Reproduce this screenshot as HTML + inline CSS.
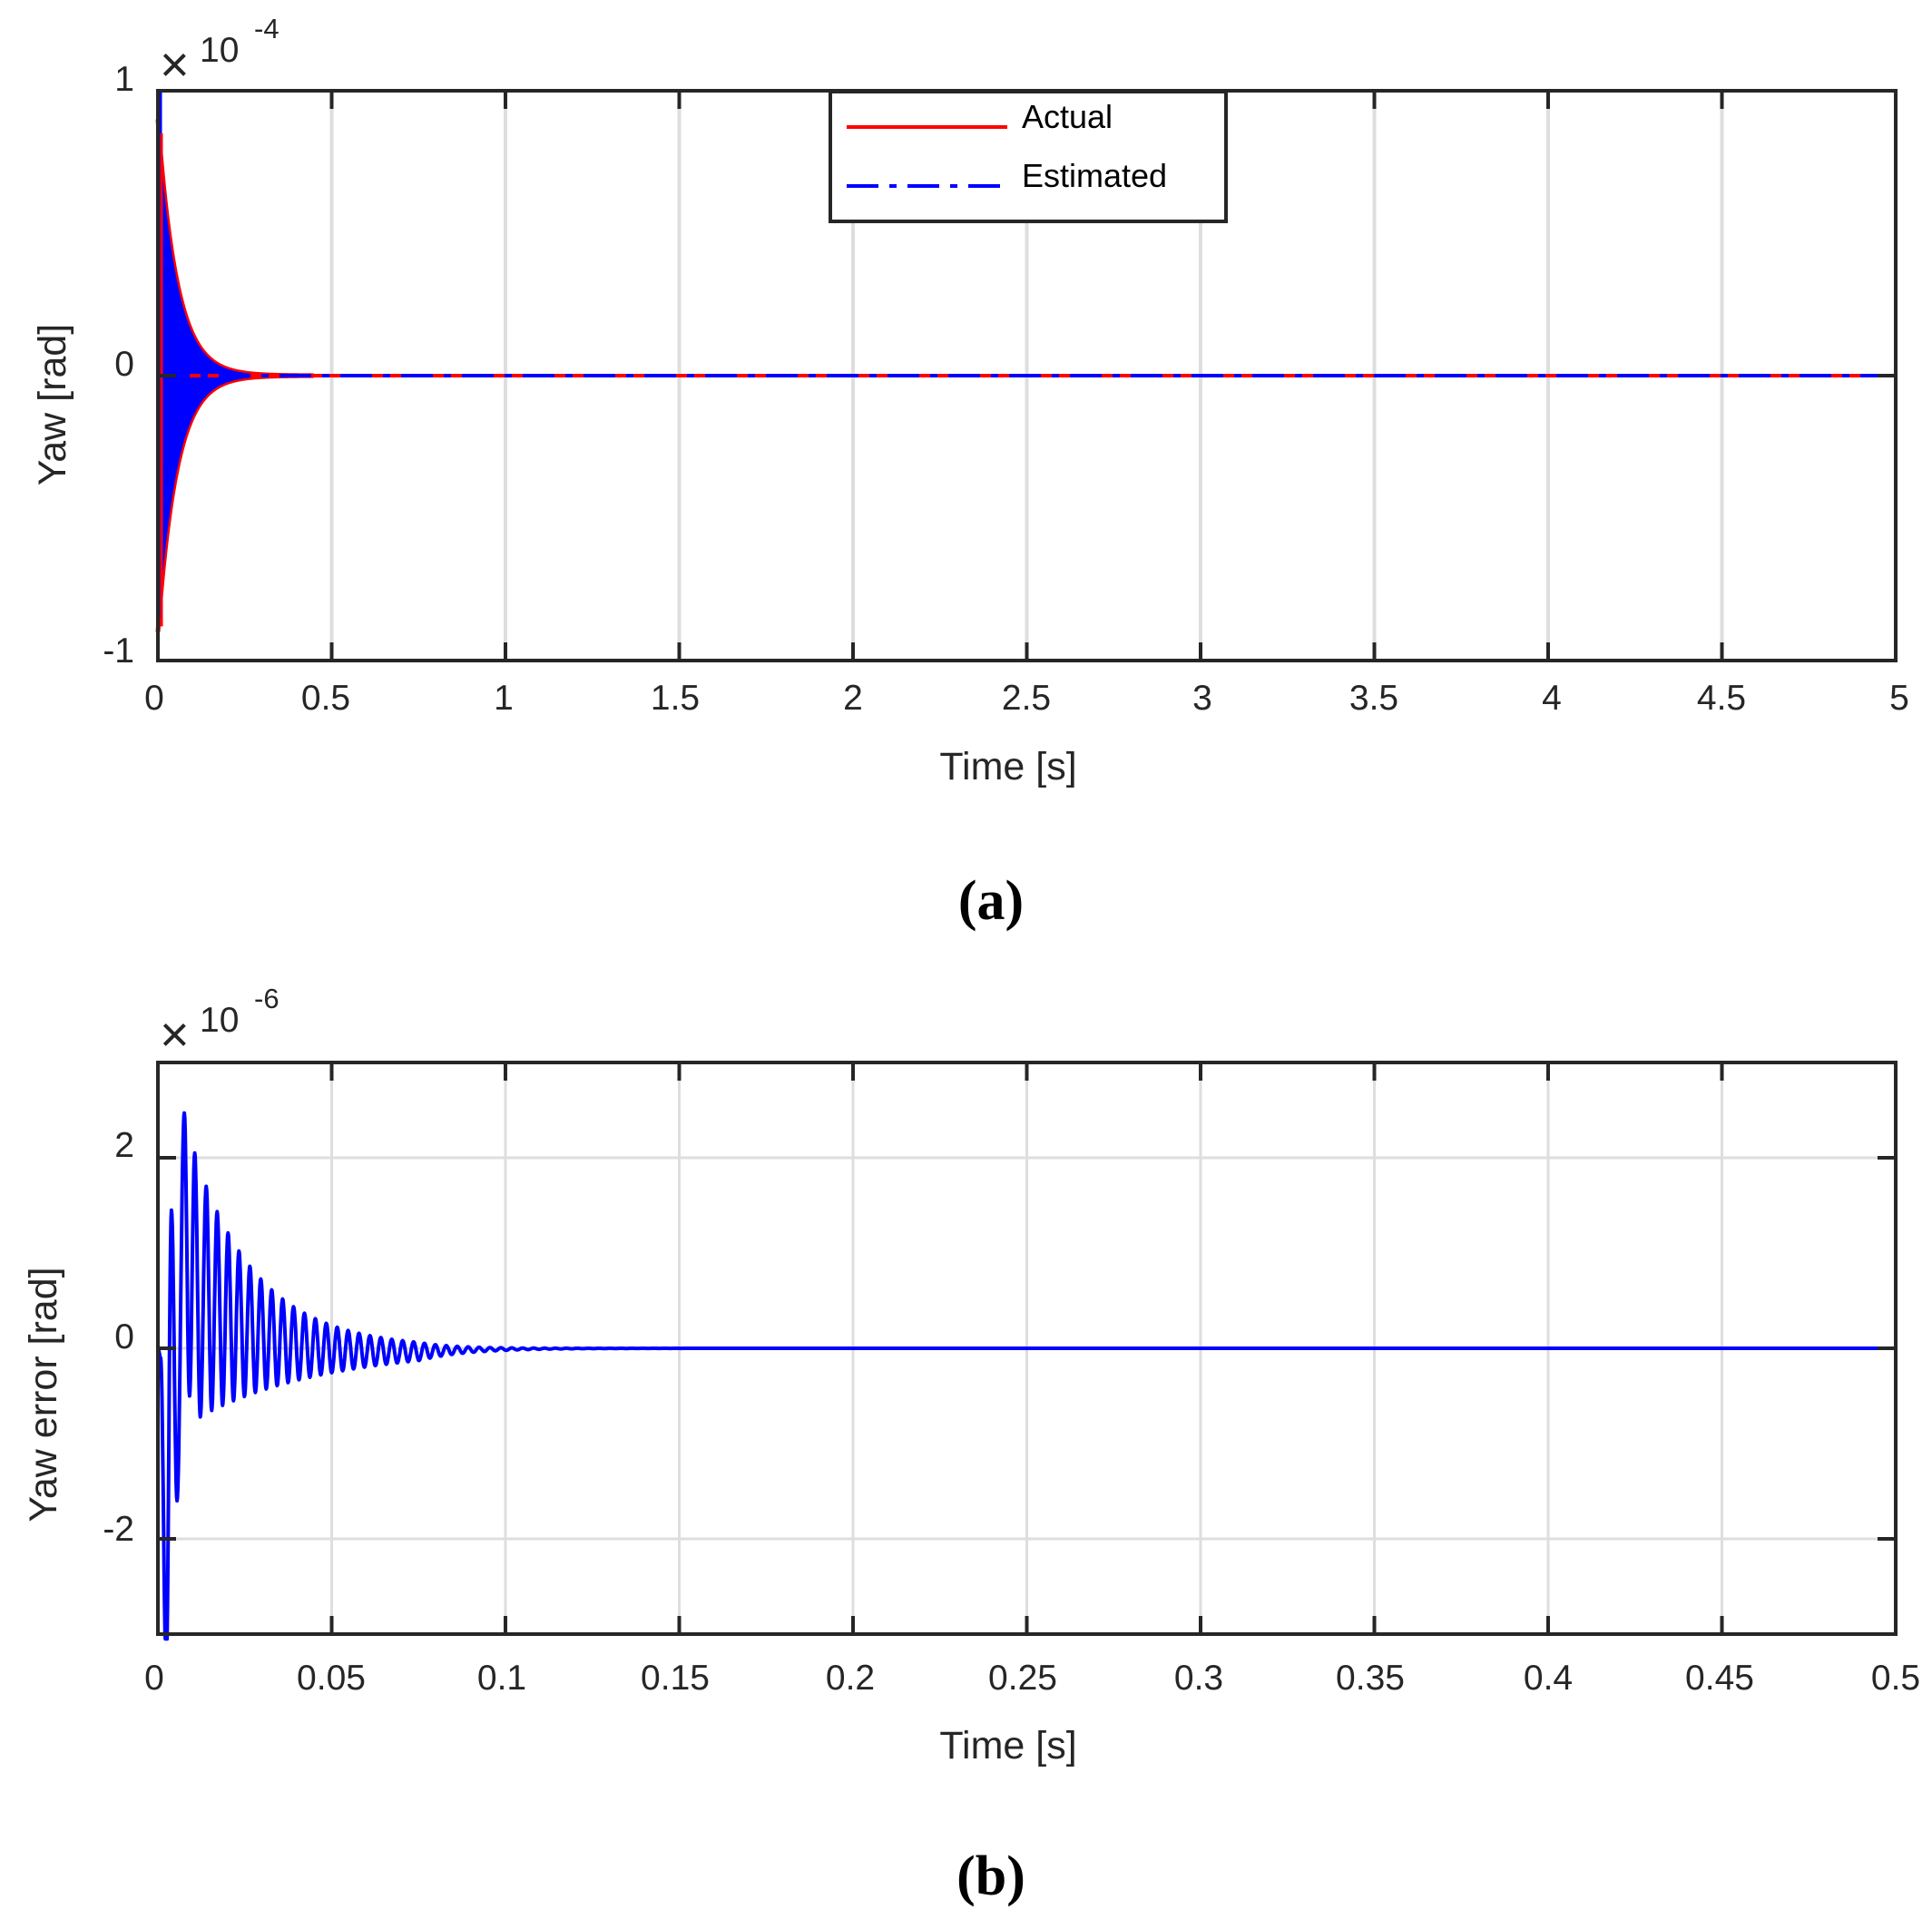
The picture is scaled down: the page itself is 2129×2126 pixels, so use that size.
<!DOCTYPE html>
<html><head><meta charset="utf-8"><style>
body{margin:0;background:#fff}
svg{display:block}
text{font-family:"Liberation Sans",Arial,sans-serif;fill:#262626}
</style></head><body>
<svg id="s" width="2129" height="2126" viewBox="0 0 2129 2126" xmlns="http://www.w3.org/2000/svg">
<rect width="2129" height="2126" fill="#fff"/>
<g id="ga"></g>
<g id="gb"></g>
<g font-size="39" text-anchor="middle">
<text x="170" y="782">0</text><text x="359" y="782">0.5</text><text x="555" y="782">1</text><text x="744" y="782">1.5</text><text x="940" y="782">2</text><text x="1131" y="782">2.5</text><text x="1325" y="782">3</text><text x="1514" y="782">3.5</text><text x="1710" y="782">4</text><text x="1897" y="782">4.5</text><text x="2093" y="782">5</text>
<text x="1111" y="859" font-size="43">Time [s]</text>
</g>
<g font-size="39" text-anchor="end">
<text x="148" y="100">1</text><text x="148" y="414">0</text><text x="148" y="730">-1</text>
</g>
<text x="0" y="0" font-size="43" text-anchor="middle" transform="translate(72,446) rotate(-90)">Yaw [rad]</text>
<text x="176" y="90" font-size="56">×</text><text x="220" y="68" font-size="39">10</text><text x="280" y="42" font-size="31">-4</text>
<text x="1092" y="1013" font-size="62" font-weight="bold" text-anchor="middle" style="font-family:'Liberation Serif',serif;fill:#000">(a)</text>
<rect x="915" y="101" width="436" height="143" fill="#fff" stroke="#262626" stroke-width="4"/>
<line x1="933" y1="140" x2="1110" y2="140" stroke="#f00" stroke-width="4"/>
<line x1="933" y1="205" x2="1110" y2="205" stroke="#00f" stroke-width="4" stroke-dasharray="35,12,8,12"/>
<text x="1126" y="141" font-size="36" style="fill:#000">Actual</text>
<text x="1126" y="206" font-size="36" style="fill:#000">Estimated</text>
<g font-size="39" text-anchor="middle">
<text x="170" y="1862">0</text><text x="365" y="1862">0.05</text><text x="553" y="1862">0.1</text><text x="744" y="1862">0.15</text><text x="937" y="1862">0.2</text><text x="1127" y="1862">0.25</text><text x="1321" y="1862">0.3</text><text x="1510" y="1862">0.35</text><text x="1706" y="1862">0.4</text><text x="1895" y="1862">0.45</text><text x="2089" y="1862">0.5</text>
<text x="1111" y="1938" font-size="43">Time [s]</text>
</g>
<g font-size="39" text-anchor="end">
<text x="148" y="1275">2</text><text x="148" y="1486">0</text><text x="148" y="1698">-2</text>
</g>
<text x="0" y="0" font-size="43" text-anchor="middle" transform="translate(62,1537) rotate(-90)">Yaw error [rad]</text>
<text x="176" y="1159" font-size="56">×</text><text x="220" y="1137" font-size="39">10</text><text x="280" y="1111" font-size="31">-6</text>
<text x="1092" y="2088" font-size="62" font-weight="bold" text-anchor="middle" style="font-family:'Liberation Serif',serif;fill:#000">(b)</text>
</svg>
<script>
var NS="http://www.w3.org/2000/svg";
function el(p,t,a){var e=document.createElementNS(NS,t);for(var k in a)e.setAttribute(k,a[k]);p.appendChild(e);return e;}
var L=174,R=2089;
var ga=document.getElementById('ga');var T=100,B=728,Z=414;
for(var i=1;i<10;i++){var x=L+i*(R-L)/10;el(ga,'line',{x1:x,y1:T,x2:x,y2:B,stroke:'#dedede','stroke-width':4});}
function ya(v){return Z-v*(B-T)/2;}
var up=[],dn=[];
for(var t=0;t<=0.45;t+=0.002){var x=L+t*(R-L)/5;var e=0.9*Math.exp(-t/0.055);up.push(x+','+ya(e));dn.push(x+','+ya(-e));}
el(ga,'polyline',{points:up.join(' '),fill:'none',stroke:'#f00','stroke-width':5});
el(ga,'polyline',{points:dn.join(' '),fill:'none',stroke:'#f00','stroke-width':5});
el(ga,'polygon',{points:up.join(' ')+' '+dn.slice().reverse().join(' '),fill:'#00f'});
el(ga,'line',{x1:L,y1:Z,x2:R,y2:Z,stroke:'#f00','stroke-width':4});
el(ga,'line',{x1:L,y1:Z,x2:R,y2:Z,stroke:'#00f','stroke-width':4,'stroke-dasharray':'35,12,8,12'});
el(ga,'line',{x1:L+2,y1:T,x2:L+2,y2:ya(-0.85),stroke:'#00f','stroke-width':5});
el(ga,'line',{x1:L+4,y1:ya(0.85),x2:L+4,y2:ya(-0.88),stroke:'#f00','stroke-width':3});
for(var i=0;i<=10;i++){var x=L+i*(R-L)/10;el(ga,'line',{x1:x,y1:T,x2:x,y2:T+20,stroke:'#262626','stroke-width':4});el(ga,'line',{x1:x,y1:B,x2:x,y2:B-20,stroke:'#262626','stroke-width':4});}
[T,Z,B].forEach(function(y){el(ga,'line',{x1:L,y1:y,x2:L+20,y2:y,stroke:'#262626','stroke-width':4});el(ga,'line',{x1:R,y1:y,x2:R-20,y2:y,stroke:'#262626','stroke-width':4});});
el(ga,'rect',{x:L,y:T,width:R-L,height:B-T,fill:'none',stroke:'#262626','stroke-width':4});
var gb=document.getElementById('gb');var Tb=1171,Bb=1801,Zb=1486;var u=(Bb-Tb)/6;
function yb(v){return Zb-v*u;}
for(var i=1;i<10;i++){var x=L+i*(R-L)/10;el(gb,'line',{x1:x,y1:Tb,x2:x,y2:Bb,stroke:'#dedede','stroke-width':3});}
[-2,0,2].forEach(function(v){el(gb,'line',{x1:L,y1:yb(v),x2:R,y2:yb(v),stroke:'#dedede','stroke-width':3});});
var ex=[[0,0],[0.0008,-0.1],[0.0024,-3.4],[0.0039,1.45],[0.0055,-1.6],[0.0076,2.47],[0.0091,-0.5],[0.0106,2.05],[0.0122,-0.72],[0.0139,1.7]];
var tp=0.0139,hp=0.00157,n=0;
while(tp<0.16){n++;tp+=hp;var tr=-0.71*Math.exp(-n*0.085);ex.push([tp,tr]);tp+=hp;var pk=1.7*Math.exp(-n*0.17);ex.push([tp,pk]);}
ex.push([0.5,0]);
var pts=[];
for(var k=0;k<ex.length-1;k++){var a=ex[k],b=ex[k+1];var m=Math.max(2,Math.ceil((b[0]-a[0])*(R-L)/0.5/0.5));if(k==ex.length-2)m=2;for(var j=0;j<m;j++){var f=j/m;var v=a[1]+(b[1]-a[1])*(1-Math.cos(Math.PI*f))/2;var tt=a[0]+(b[0]-a[0])*f;var vv=Math.max(-3.05,v);if(tt>0.075){vv=v*Math.exp(-(tt-0.075)/0.022);}pts.push((L+tt*(R-L)/0.5).toFixed(1)+','+yb(vv).toFixed(1));}}
pts.push(R+','+yb(0));
el(gb,'polyline',{points:pts.join(' '),fill:'none',stroke:'#00f','stroke-width':4,'stroke-linejoin':'round'});
for(var i=0;i<=10;i++){var x=L+i*(R-L)/10;el(gb,'line',{x1:x,y1:Tb,x2:x,y2:Tb+20,stroke:'#262626','stroke-width':4});el(gb,'line',{x1:x,y1:Bb,x2:x,y2:Bb-20,stroke:'#262626','stroke-width':4});}
[-2,0,2].forEach(function(v){var y=yb(v);el(gb,'line',{x1:L,y1:y,x2:L+20,y2:y,stroke:'#262626','stroke-width':4});el(gb,'line',{x1:R,y1:y,x2:R-20,y2:y,stroke:'#262626','stroke-width':4});});
el(gb,'rect',{x:L,y:Tb,width:R-L,height:Bb-Tb,fill:'none',stroke:'#262626','stroke-width':4});
</script>
</body></html>
